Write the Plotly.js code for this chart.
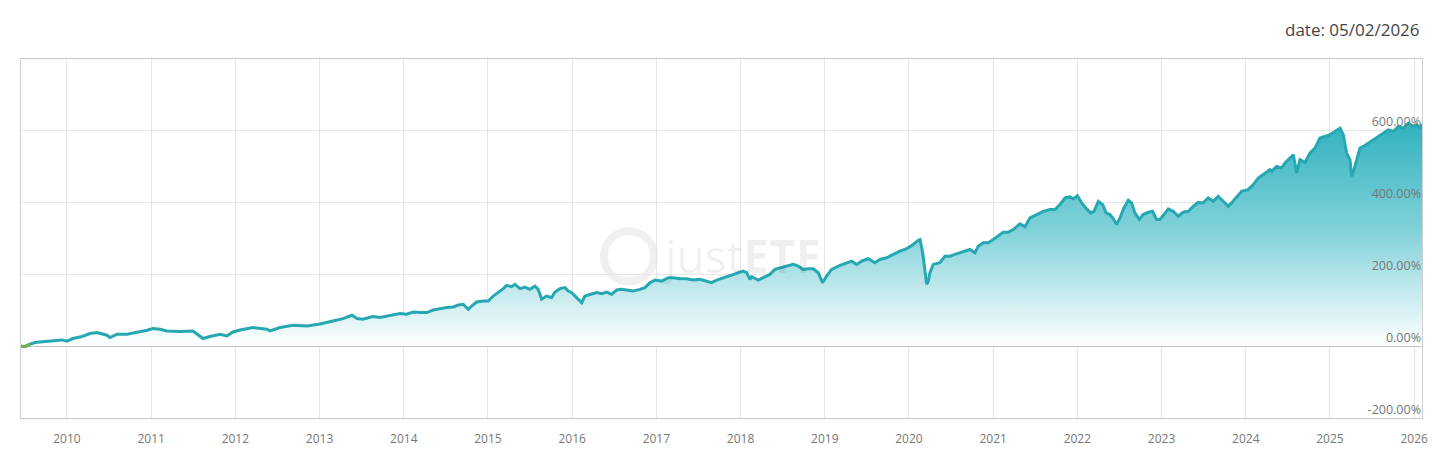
<!DOCTYPE html>
<html>
<head>
<meta charset="utf-8">
<script src="https://cdn.plot.ly/plotly-3.0.1.min.js"></script>
<style>
html,body{margin:0;padding:0;background:#fff;}
#chart{width:1455px;height:461px;}
</style>
</head>
<body>
<div id="chart"></div>
<script>
// Time as decimal years
const years = [
2009.454,2009.501,2009.561,2009.620,2009.739,2009.834,2009.941,2010.000,2010.071,2010.178,2010.273,2010.356,
2010.475,2010.511,2010.594,2010.713,2010.831,2010.950,2011.021,2011.105,2011.188,2011.342,2011.496,2011.580,
2011.615,2011.698,2011.817,2011.900,2011.971,2012.055,2012.209,2012.375,2012.411,2012.530,2012.684,2012.850,
2013.005,2013.159,2013.278,2013.385,2013.444,2013.515,2013.634,2013.717,2013.836,2013.955,
2014.034,2014.113,2014.192,2014.272,2014.350,2014.430,2014.509,2014.588,2014.647,2014.706,2014.766,2014.806,
2014.865,2014.944,2015.003,2015.063,2015.122,2015.182,2015.222,2015.281,2015.320,2015.380,2015.439,2015.498,
2015.558,2015.597,2015.637,2015.697,2015.756,2015.796,2015.855,2015.914,2015.954,2015.994,2016.053,2016.113,
2016.152,2016.211,2016.291,2016.350,2016.409,2016.469,2016.528,2016.587,2016.647,2016.726,2016.805,2016.864,
2016.924,2016.983,2017.062,2017.141,2017.201,2017.280,2017.359,2017.438,2017.517,2017.597,2017.656,2017.716,
2017.795,2017.874,2017.953,2018.032,2018.072,2018.111,2018.131,2018.210,2018.269,2018.348,2018.408,2018.487,
2018.566,2018.625,2018.685,2018.744,2018.803,2018.863,2018.922,2018.974,2019.022,2019.081,2019.180,2019.259,
2019.319,2019.378,2019.437,2019.516,2019.596,2019.655,2019.734,2019.814,2019.893,2019.972,2020.051,2020.111,
2020.131,2020.163,2020.190,2020.210,2020.230,2020.249,2020.289,2020.368,2020.427,2020.487,2020.546,2020.605,
2020.665,2020.724,2020.784,2020.823,2020.882,2020.942,2021.001,2021.060,2021.120,2021.179,2021.238,2021.318,
2021.378,2021.437,2021.516,2021.595,2021.674,2021.734,2021.793,2021.853,2021.912,2021.952,2022.000,2022.051,
2022.110,2022.158,2022.197,2022.249,2022.301,2022.340,2022.387,2022.427,2022.466,2022.506,2022.553,2022.605,
2022.644,2022.683,2022.735,2022.782,2022.842,2022.893,2022.941,2022.980,2023.020,2023.079,2023.138,2023.198,
2023.257,2023.317,2023.376,2023.435,2023.495,2023.554,2023.614,2023.673,2023.732,2023.792,2023.831,2023.891,
2023.950,2024.029,2024.089,2024.148,2024.228,2024.287,2024.308,2024.367,2024.426,2024.466,2024.525,2024.565,
2024.604,2024.644,2024.703,2024.762,2024.822,2024.881,2024.941,2025.000,2025.059,2025.119,2025.158,2025.198,
2025.238,2025.258,2025.285,2025.317,2025.356,2025.396,2025.455,2025.515,2025.574,2025.633,2025.693,2025.752,
2025.812,2025.871,2025.930,2025.990,2026.029,2026.069,2026.093
];
// Cumulative performance in percent
const perf = [
0,-1,5.6,10.3,13.1,14.7,17.5,13.9,21.4,26.9,35.3,38.1,
30.6,24.2,33.3,33.3,38.1,44.4,49.2,47.2,42.5,40.8,42.5,28.6,
21.4,26.9,33.3,28.6,39.7,45.3,51.9,47.2,42.5,51.9,58.3,56.4,
61.9,70.3,76.9,86.1,76.9,75,82.5,79.7,86.1,90.8,
88.9,95.3,93.6,93.6,100.8,104.7,107.5,109.2,114.7,116.7,102.8,111.9,
123,125.8,125.8,139.7,149.2,160.3,169.4,165.8,172.2,160.3,164.7,158.3,
167.5,158.3,130.6,139.7,135.3,150.8,160.3,163.1,153.6,149.2,135.3,121.4,
139.7,144.4,149.2,146.4,150.8,144.4,156.4,158.3,156.4,153.6,158.3,163.1,
176.9,184.2,181.4,190.8,190.8,188.1,188.1,184.2,186.1,181.4,176.9,184.2,
190.8,195.3,202.8,209.2,204.7,186.1,193.6,184.2,190.8,200,213.9,218.6,
223.1,227.8,223.1,213.9,215.8,215.8,204.7,176.9,195.3,213.9,225,232.5,
236.9,227.8,236.9,243.6,232.5,241.7,246.4,255.6,264.7,271.4,283.3,295.3,
297.2,260.3,213.9,172.2,181.4,204.7,227.8,232.5,250.8,250.8,255.6,260.3,
264.7,269.4,260.3,278.6,288.1,288.1,297.2,308.3,317.5,317.5,325,341,
332.5,357.5,366.7,375.8,380.6,380.6,394.4,413,415.8,410.3,419.4,399.2,
382.5,371.4,375.8,403.6,394.4,371.4,366.7,354.7,338.9,357.5,385.3,406.4,
399.2,371.4,352.8,366.7,373.1,375.8,352.8,352.8,363.9,382.5,375.8,361.9,
373.1,375.8,389.7,400.8,399.2,413,403.6,417.5,403.6,389.7,399.2,415.8,
431.4,436.1,450,468.6,482.5,491.7,487,500.8,496.4,510.3,524.2,533.3,
482.5,519.4,511.9,538,551.9,579.7,584.2,588.9,598.1,607.5,588.9,538,
519.4,473.1,491.7,519.4,551.9,556.4,565.8,575,584.2,593.6,602.8,598.1,
611.9,607.5,621.4,611.9,616.7,607.5,619.4
];
const yTicks = [-200, 0, 200, 400, 600];
const yTickText = ['-200.00%', '0.00%', '200.00%', '400.00%', '600.00%'];
const xTicks = [2010,2011,2012,2013,2014,2015,2016,2017,2018,2019,2020,2021,2022,2023,2024,2025,2026];
const xTickText = ['2010','2011','2012','2013','2014','2015','2016','2017','2018','2019','2020','2021','2022','2023','2024','2025','2026'];
const dateLabel = 'date: 05/02/2026';

const trace = {
  x: years, y: perf, type: 'scatter', mode: 'lines',
  line: {color: '#26a8b3', width: 3},
  fill: 'tozeroy',
  fillgradient: {type: 'vertical', start: 0, stop: 640,
    colorscale: [[0, 'rgba(255,255,255,1)'], [0.5, 'rgba(130,210,218,1)'], [1, 'rgba(44,176,189,1)']]},
  hoverinfo: 'skip'
};
const startTrace = {
  x: years.slice(0, 3), y: perf.slice(0, 3), type: 'scatter', mode: 'lines',
  line: {color: '#6fb14a', width: 3}, hoverinfo: 'skip'
};

const layout = {
  width: 1455, height: 461,
  margin: {l: 21, r: 33, t: 59, b: 43},
  paper_bgcolor: '#fff', plot_bgcolor: '#fff',
  showlegend: false,
  font: {family: 'Open Sans, sans-serif', color: '#777', size: 12},
  xaxis: {
    range: [2009.454, 2026.093],
    tickvals: xTicks, ticktext: xTickText,
    showgrid: true, gridcolor: '#e6e6e6', gridwidth: 1,
    showline: true, linecolor: '#c8c8c8', linewidth: 1, mirror: true,
    ticks: '', ticklabelstandoff: 10, ticklabeloverflow: 'allow',
    tickfont: {size: 12, color: '#777'}, zeroline: false
  },
  yaxis: {
    range: [-200, 800], side: 'right',
    tickvals: yTicks, ticktext: yTickText,
    ticklabelposition: 'inside top', ticklabeloverflow: 'allow',
    showgrid: true, gridcolor: '#e6e6e6', gridwidth: 1,
    showline: true, linecolor: '#d0d0d0', linewidth: 1, mirror: true,
    zeroline: true, zerolinecolor: '#b0b0b0', zerolinewidth: 1,
    ticks: '', tickfont: {size: 12.5, color: '#777'}
  },
  annotations: [
    {text: dateLabel, xref: 'paper', yref: 'paper', x: 1.0, y: 1.081, xanchor: 'right', yanchor: 'middle',
     showarrow: false, font: {size: 17, color: '#444', family: 'Open Sans, sans-serif'}},
    {text: 'just<b>ETF</b>', xref: 'paper', yref: 'paper', x: 0.456, y: 0.455, xanchor: 'left', yanchor: 'middle',
     showarrow: false, font: {size: 46, color: 'rgba(0,0,0,0.06)', family: 'Open Sans, sans-serif'}}
  ],
  shapes: [
    {type: 'circle', xref: 'paper', yref: 'paper', x0: 0.416, x1: 0.452, y0: 0.38, y1: 0.52,
     line: {color: 'rgba(0,0,0,0.06)', width: 8}, layer: 'below'}
  ]
};

Plotly.newPlot('chart', [trace, startTrace], layout, {displayModeBar: false, staticPlot: true});
</script>
</body>
</html>
